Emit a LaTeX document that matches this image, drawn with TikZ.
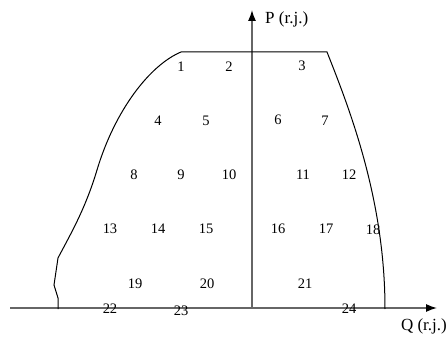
\documentclass[tikz,border=0pt]{standalone}
\usepackage{fontspec}
\setmainfont{Liberation Serif}
\usetikzlibrary{arrows.meta}
\begin{document}
\begin{tikzpicture}[x=1pt,y=-1pt,
  lbl/.style={inner sep=0pt,font=\fontsize{14.5}{16}\selectfont},
  axlbl/.style={inner sep=0pt,font=\fontsize{17}{19}\selectfont},
  axis/.style={draw=black!60,line width=1.3pt,-{Latex[length=11pt,width=8pt,color=black]}},
  bound/.style={draw=black,line width=1pt}]
\useasboundingbox (0,0) rectangle (448,337);
% axes
\coordinate (O) at (252,308);
\coordinate (Ptip) at (252,10);
\coordinate (Qstart) at (10,308);
\coordinate (Qtip) at (437,308);
\draw[axis] (O) -- (Ptip);
\draw[axis] (Qstart) -- (Qtip);
\node[axlbl,anchor=west] (P) at (265,19) {P (r.j.)};
\node[axlbl,anchor=east] (Q) at (447,326) {Q (r.j.)};
% boundary
\draw[bound] (58,309) -- (58,298) -- (54,285) -- (58,258)
  .. controls (70,235) and (85,210) .. (97,170)
  .. controls (115,110) and (150,65) .. (181,52)
  -- (327,52)
  .. controls (350,110) and (385,200) .. (385,309);
% labels
\node[lbl] (n1) at (181,67) {1};
\node[lbl] (n2) at (229,67) {2};
\node[lbl] (n3) at (302,66) {3};
\node[lbl] (n4) at (158,121) {4};
\node[lbl] (n5) at (206,121) {5};
\node[lbl] (n6) at (278,120) {6};
\node[lbl] (n7) at (325,121) {7};
\node[lbl] (n8) at (134,175) {8};
\node[lbl] (n9) at (181,175) {9};
\node[lbl] (n10) at (229,175) {10};
\node[lbl] (n11) at (303,175) {11};
\node[lbl] (n12) at (349,175) {12};
\node[lbl] (n13) at (110,229) {13};
\node[lbl] (n14) at (158,229) {14};
\node[lbl] (n15) at (206,229) {15};
\node[lbl] (n16) at (278,229) {16};
\node[lbl] (n17) at (326,229) {17};
\node[lbl] (n18) at (373,230) {18};
\node[lbl] (n19) at (135,284) {19};
\node[lbl] (n20) at (207,284) {20};
\node[lbl] (n21) at (305,284) {21};
\node[lbl] (n22) at (110,309) {22};
\node[lbl] (n23) at (181,311) {23};
\node[lbl] (n24) at (349,309) {24};
\end{tikzpicture}
\end{document}
